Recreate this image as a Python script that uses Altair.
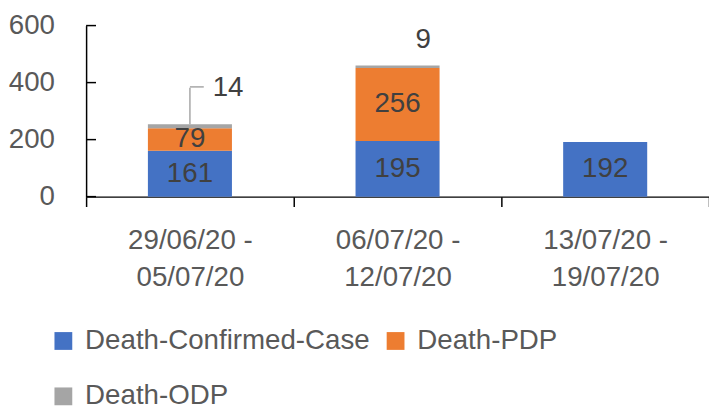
import altair as alt
import pandas as pd

categories = ["29/06/20 - 05/07/20", "06/07/20 - 12/07/20", "13/07/20 - 19/07/20"]
series = ["Death-Confirmed-Case", "Death-PDP", "Death-ODP"]
confirmed = [161, 195, 192]
pdp = [79, 256, 0]
odp = [14, 9, 0]
colors = ["#4472C4", "#ED7D31", "#A5A5A5"]
y_ticks = [0, 200, 400, 600]

rows = []
for i, c in enumerate(categories):
    for j, (s, vals) in enumerate(zip(series, [confirmed, pdp, odp])):
        rows.append({"cat": c, "series": s, "order": j, "value": vals[i]})
df = pd.DataFrame(rows)
tick_df = pd.DataFrame({"tick": y_ticks})

FONT = "Liberation Sans"
FS = 28

base = (
    alt.Chart(df)
    .transform_stack(stack="value", groupby=["cat"], sort=[alt.SortField("order")], as_=["y0", "y1"])
    .transform_calculate(mid="(datum.y0 + datum.y1) / 2")
)

x_enc = alt.X(
    "cat:N",
    sort=categories,
    title=None,
    scale=alt.Scale(paddingInner=0, paddingOuter=0),
    axis=alt.Axis(
        title=None,
        labelExpr="indexof(datum.label, ' - ') < 0 ? '' : [split(datum.label, ' - ')[0] + ' -', split(datum.label, ' - ')[1]]",
        labelFont=FONT,
        labelFontSize=FS,
        labelColor="#595959",
        labelAngle=0,
        labelBaseline="top",
        labelLineHeight=38,
        labelPadding=20,
        labelLimit=0,
        tickBand="extent",
        tickSize=10,
        tickColor="#000000",
        tickWidth=1.5,
        domainColor="#000000",
        domainWidth=1.5,
    ),
)
x_plain = alt.X("cat:N", sort=categories, title=None)

y_scale = alt.Scale(domain=[0, 600], nice=False)


def y_plain(field):
    return alt.Y(field, scale=y_scale, title=None)


bars = base.transform_filter("datum.value > 0").mark_bar(width=85).encode(
    x=x_enc,
    y=alt.Y(
        "y0:Q",
        scale=y_scale,
        title=None,
        axis=alt.Axis(
            title=None,
            values=y_ticks,
            grid=False,
            ticks=False,
            tickSize=0,
            labelFont=FONT,
            labelFontSize=FS,
            labelColor="#595959",
            labelPadding=32,
            domainColor="#000000",
            domainWidth=1.5,
        ),
    ),
    y2="y1:Q",
    color=alt.Color(
        "series:N",
        scale=alt.Scale(domain=series, range=colors),
        legend=alt.Legend(
            title=None,
            orient="none",
            legendX=-37,
            legendY=305,
            columns=2,
            direction="horizontal",
            symbolType="square",
            symbolSize=324,
            symbolStrokeWidth=0,
            labelFont=FONT,
            labelFontSize=FS,
            labelColor="#595959",
            labelLimit=0,
            labelOffset=8,
            columnPadding=12,
            rowPadding=28,
            padding=0,
        ),
    ),
    order=alt.Order("order:Q"),
)

y_ticks_layer = alt.Chart(tick_df).mark_rule(color="#000000", strokeWidth=1.5).encode(
    y=y_plain("tick:Q"),
    x=alt.value(0),
    x2=alt.value(10),
)

inner_labels = base.transform_filter("datum.value > 0 && datum.order < 2").mark_text(
    font=FONT, fontSize=FS, color="#404040", baseline="middle"
).encode(x=x_plain, y=y_plain("mid:Q"), text="value:Q")

odp1 = base.transform_filter(
    alt.datum.series == series[2]
).transform_filter(alt.datum.cat == categories[0])
odp2 = base.transform_filter(
    alt.datum.series == series[2]
).transform_filter(alt.datum.cat == categories[1])

odp_label1 = odp1.mark_text(
    font=FONT, fontSize=FS, color="#404040", align="left", baseline="middle", dx=23, dy=-37
).encode(x=x_plain, y=y_plain("y1:Q"), text="value:Q")

odp_label2 = odp2.mark_text(
    font=FONT, fontSize=FS, color="#404040", align="center", baseline="middle", dx=26, dy=-26
).encode(x=x_plain, y=y_plain("y1:Q"), text="value:Q")

leader_v = odp1.mark_bar(color="#A6A6A6", width=1.5, y2Offset=-37).encode(
    x=x_plain, y=y_plain("y1:Q"), y2="y1:Q"
)
leader_h = odp1.mark_bar(color="#A6A6A6", width=14, xOffset=7, yOffset=-37, y2Offset=-38.5).encode(
    x=x_plain, y=y_plain("y1:Q"), y2="y1:Q"
)

chart = (
    alt.layer(bars, y_ticks_layer, inner_labels, leader_v, leader_h, odp_label1, odp_label2)
    .properties(
        width=630,
        height=173,
        autosize=alt.AutoSizeParams(type="none"),
        padding={"left": 79, "top": 15.5, "right": 0, "bottom": 212},
    )
    .configure_view(stroke=None)
)

chart.save("out.html", embed_options={"renderer": "svg", "actions": False})
